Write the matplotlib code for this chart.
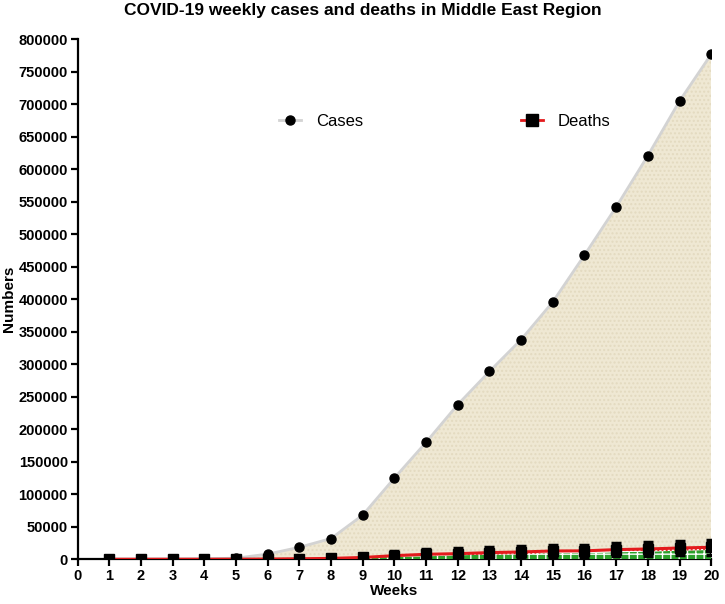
import numpy as np
import matplotlib.pyplot as plt

plt.rcParams['font.family'] = ['Liberation Sans', 'DejaVu Sans']

# data
weeks = list(range(1, 21))
cases = [10, 50, 200, 600, 1800, 8000, 18500, 32000, 68000, 125000,
         180000, 238000, 289000, 338000, 396000, 468000, 542000, 621000, 705000, 777000]
deaths = [0, 0, 10, 30, 60, 300, 800, 1400, 2800, 5600,
          7700, 8700, 10300, 11300, 12800, 13000, 14900, 15900, 17400, 18500]
deaths_lower = [0, 0, 0, 0, 0, 100, 400, 900, 1800, 4100,
                4600, 6200, 7200, 7700, 9700, 9700, 10800, 11800, 13300, 14400]
deaths_err = [300, 300, 400, 500, 700, 4500, 5000, 5500, 6000, 7000,
              7500, 8000, 8500, 9000, 9500, 9500, 10000, 10500, 11000, 11500]

fig = plt.figure(figsize=(7.25, 6.04), dpi=100)
ax = fig.add_axes([0.107, 0.074, 0.874, 0.861])

# cases: beige fill + gray line + black dots
ax.fill_between(weeks, 0, cases, facecolor='#efe8d3', edgecolor='#e3dac0',
                hatch='....', linewidth=0, zorder=1)
ax.plot(weeks, cases, color='#d3d3d3', lw=2, zorder=2)
ax.plot(weeks, cases, 'o', color='black', ms=6.5, zorder=7)

# deaths: green checkered fill, red dotted band, red line, squares with error bars
ax.fill_between(weeks, 0, deaths_lower, facecolor='#2ca02c', edgecolor='#ffffff',
                hatch='++', linewidth=0, zorder=3)
ax.fill_between(weeks, deaths_lower, deaths, facecolor='#ffffff', edgecolor='#e31a1c',
                hatch='....', linewidth=0, zorder=3)
ax.plot(weeks, deaths, color='#e31a1c', lw=2.2, zorder=4)
ax.errorbar(weeks, deaths, yerr=deaths_err, fmt='s', color='black', ms=6.5,
            elinewidth=2.5, capsize=3.5, capthick=2.5, zorder=6)

# legend proxies
h1, = ax.plot([], [], color='#d3d3d3', lw=2, marker='o', mfc='black', mec='black', ms=6.5)
h2, = ax.plot([], [], color='#e31a1c', lw=2, marker='s', mfc='black', mec='black', ms=8)
ax.legend([h1, h2], ['Cases', 'Deaths'], loc='upper center', bbox_to_anchor=(0.58, 0.885),
          ncol=2, frameon=False, fontsize=12, columnspacing=9.5, handlelength=1.3,
          handletextpad=0.9)

ax.set_xlim(0, 20)
ax.set_ylim(0, 800000)
ax.set_xticks(range(0, 21))
ax.set_yticks(range(0, 800001, 50000))
ax.spines['top'].set_visible(False)
ax.spines['right'].set_visible(False)
for s in ('left', 'bottom'):
    ax.spines[s].set_linewidth(1.6)
ax.tick_params(axis='both', width=1.6, length=5, labelsize=10.5, pad=2)
for lbl in ax.get_xticklabels() + ax.get_yticklabels():
    lbl.set_fontweight('bold')

ax.set_xlabel('Weeks', fontsize=11, fontweight='bold', labelpad=1)
ax.set_ylabel('Numbers', fontsize=11, fontweight='bold', labelpad=2)
fig.suptitle('COVID-19 weekly cases and deaths in Middle East Region',
             x=0.5, y=0.995, fontsize=12.5, fontweight='bold')

fig.savefig('out.png', dpi=100)
